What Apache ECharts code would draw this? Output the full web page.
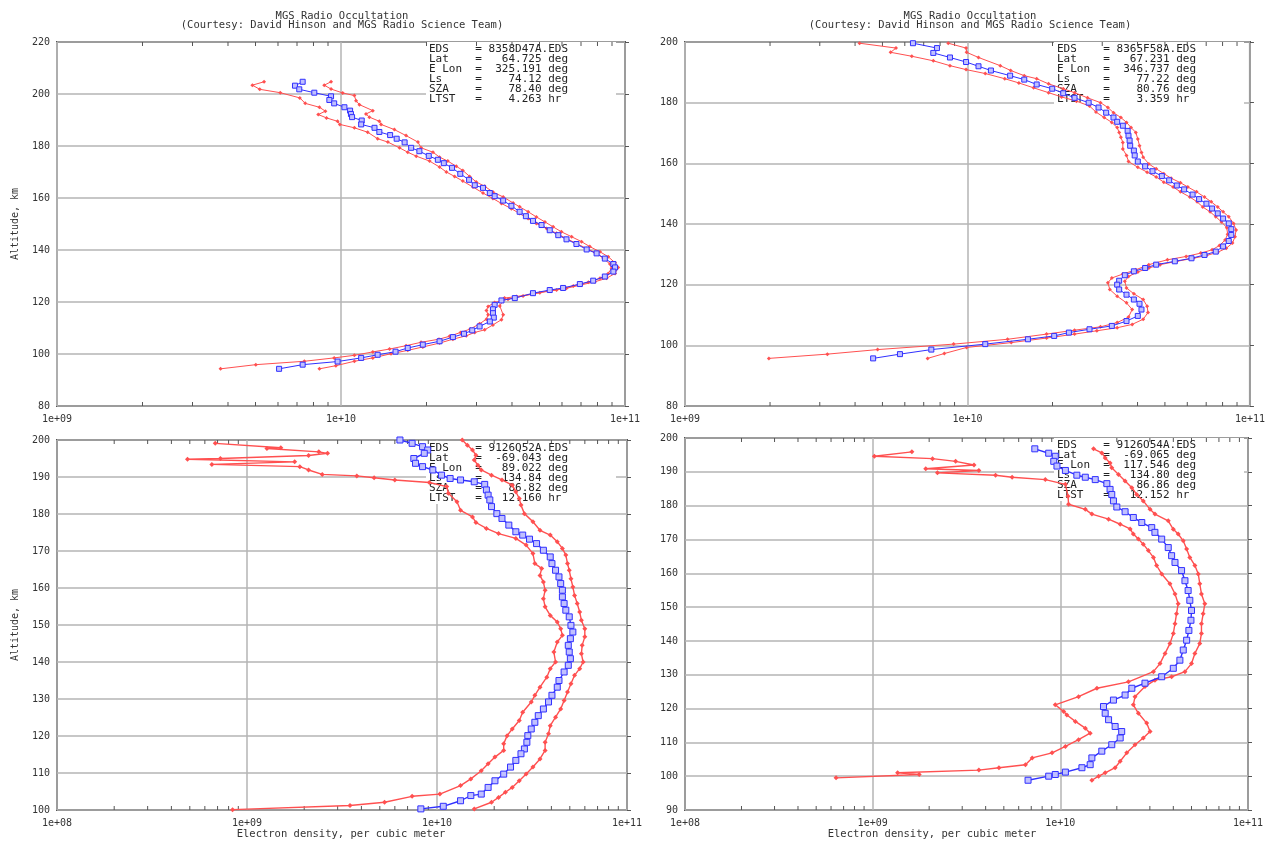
<!DOCTYPE html>
<html><head><meta charset="utf-8">
<script src="https://cdn.jsdelivr.net/npm/echarts@6/dist/echarts.min.js"></script>
<style>html,body{margin:0;padding:0;background:#fff}#c{width:1268px;height:843px}</style>
</head><body><div id="c"></div>
<script>
// ---- DATA: each point is [altitude km, log10(electron density per m^3)] ----
const p1Blue=[[204.7,9.865],[203.2,9.838],[201.8,9.853],[200.5,9.906],[199.1,9.965],[197.7,9.959],[196.4,9.976],[194.9,10.012],[193.6,10.032],[192.3,10.035],[191.1,10.039],[189.8,10.073],[188.3,10.071],[187.0,10.118],[185.4,10.135],[184.2,10.173],[182.8,10.196],[181.4,10.224],[179.3,10.247],[178.0,10.276],[176.2,10.309],[174.7,10.341],[173.4,10.362],[171.6,10.391],[169.3,10.42],[167.0,10.451],[164.9,10.471],[163.9,10.5],[161.9,10.524],[160.7,10.541],[159.0,10.571],[157.0,10.6],[154.7,10.629],[153.0,10.651],[151.2,10.676],[149.6,10.706],[147.6,10.735],[145.7,10.765],[144.1,10.794],[142.3,10.829],[140.2,10.865],[138.7,10.9],[136.7,10.929],[134.6,10.959],[133.3,10.965],[131.7,10.959],[129.8,10.929],[128.2,10.888],[126.9,10.841],[125.4,10.782],[124.6,10.735],[123.4,10.676],[121.5,10.612],[120.6,10.565],[118.9,10.541],[117.2,10.535],[115.7,10.535],[114.0,10.538],[112.5,10.524],[110.6,10.488],[109.1,10.462],[107.8,10.433],[106.5,10.394],[104.9,10.347],[103.6,10.288],[102.3,10.235],[100.9,10.192],[99.7,10.129],[98.5,10.071],[97.1,9.988],[95.9,9.865],[94.3,9.782]];
const p1RedLo=[[204.7,9.729],[203.4,9.688],[201.8,9.714],[200.5,9.786],[198.5,9.855],[196.4,9.874],[194.9,9.924],[193.4,9.945],[192.1,9.92],[190.8,9.949],[189.5,9.988],[188.3,9.996],[187.0,10.047],[185.3,10.094],[182.8,10.129],[181.5,10.165],[179.3,10.206],[177.6,10.235],[176.1,10.265],[174.2,10.312],[171.9,10.347],[170.0,10.371],[168.3,10.4],[166.5,10.429],[164.2,10.465],[161.9,10.5],[159.8,10.535],[157.9,10.565],[155.9,10.6],[154.0,10.629],[152.1,10.659],[150.2,10.688],[148.3,10.724],[146.4,10.759],[144.4,10.794],[142.5,10.829],[140.6,10.865],[139.0,10.894],[136.8,10.924],[134.6,10.947],[133.0,10.953],[131.0,10.941],[129.1,10.912],[127.6,10.871],[126.2,10.818],[124.6,10.759],[123.6,10.7],[122.3,10.641],[121.1,10.588],[119.8,10.541],[118.3,10.518],[116.7,10.512],[115.1,10.518],[113.4,10.512],[111.6,10.488],[109.6,10.455],[108.3,10.421],[106.8,10.382],[105.7,10.345],[104.5,10.282],[103.2,10.229],[101.9,10.171],[100.8,10.112],[99.5,10.047],[98.5,9.976],[97.2,9.871],[95.9,9.7],[94.3,9.576]];
const p1RedHi=[[204.7,9.965],[203.4,9.941],[201.9,9.965],[200.4,10.006],[199.4,10.047],[197.4,10.053],[195.9,10.065],[193.6,10.112],[192.3,10.088],[191.1,10.1],[189.5,10.135],[188.3,10.141],[186.3,10.188],[184.0,10.229],[181.5,10.271],[179.3,10.282],[177.6,10.324],[175.7,10.347],[174.2,10.376],[172.2,10.406],[170.6,10.429],[168.3,10.453],[166.2,10.476],[164.5,10.506],[162.3,10.535],[160.4,10.571],[158.1,10.606],[156.6,10.629],[154.7,10.659],[152.7,10.688],[150.8,10.718],[148.9,10.747],[147.0,10.776],[145.1,10.812],[143.2,10.847],[141.3,10.876],[139.3,10.912],[137.4,10.941],[135.1,10.965],[133.3,10.976],[131.0,10.965],[129.1,10.935],[127.8,10.894],[126.6,10.847],[125.3,10.794],[124.4,10.735],[123.1,10.676],[122.1,10.618],[121.5,10.576],[118.5,10.559],[115.1,10.571],[113.2,10.565],[111.2,10.535],[109.3,10.506],[108.3,10.471],[107.0,10.441],[105.7,10.394],[104.2,10.347],[102.7,10.288],[101.4,10.235],[100.1,10.176],[98.5,10.112],[97.2,10.047],[95.5,9.982],[94.3,9.924]];

const p2Blue=[[199.6,9.807],[198.0,9.892],[196.4,9.879],[194.9,9.938],[193.4,9.995],[192.0,10.039],[190.6,10.083],[188.9,10.151],[187.6,10.201],[186.0,10.245],[184.6,10.3],[183.1,10.339],[181.6,10.379],[180.0,10.429],[178.4,10.464],[176.7,10.491],[175.1,10.517],[173.7,10.53],[172.4,10.55],[170.7,10.567],[169.1,10.57],[167.5,10.574],[165.8,10.576],[164.2,10.589],[162.6,10.592],[160.6,10.603],[159.0,10.629],[157.4,10.655],[155.8,10.688],[154.4,10.714],[152.7,10.741],[151.4,10.767],[149.7,10.797],[148.2,10.82],[146.7,10.846],[145.1,10.866],[143.5,10.886],[141.8,10.905],[140.2,10.925],[138.3,10.934],[136.4,10.934],[134.4,10.925],[132.6,10.905],[130.9,10.879],[129.8,10.839],[128.7,10.793],[127.7,10.734],[126.6,10.668],[125.5,10.629],[124.4,10.589],[123.1,10.557],[121.3,10.537],[120.0,10.53],[118.4,10.537],[116.7,10.563],[115.1,10.589],[113.7,10.609],[111.8,10.616],[109.7,10.603],[108.0,10.563],[106.4,10.511],[105.3,10.432],[104.2,10.359],[103.1,10.307],[102.0,10.214],[100.4,10.063],[98.6,9.872],[97.1,9.761],[95.7,9.666]];
const p2RedLo=[[199.6,9.618],[198.0,9.747],[196.6,9.728],[195.3,9.803],[193.8,9.879],[192.2,9.938],[190.9,9.995],[189.6,10.063],[187.9,10.132],[186.5,10.182],[184.9,10.234],[183.3,10.287],[181.9,10.333],[180.5,10.386],[178.9,10.432],[176.9,10.455],[175.1,10.484],[173.5,10.511],[171.8,10.53],[170.2,10.537],[168.6,10.543],[166.9,10.55],[164.7,10.55],[162.6,10.563],[160.6,10.57],[158.7,10.603],[157.1,10.636],[155.5,10.668],[153.8,10.695],[152.2,10.728],[150.6,10.754],[148.9,10.787],[147.3,10.813],[145.6,10.833],[144.0,10.859],[142.4,10.879],[140.7,10.899],[138.8,10.918],[136.6,10.921],[134.7,10.912],[132.9,10.892],[131.5,10.866],[130.4,10.826],[129.3,10.774],[128.2,10.708],[126.6,10.642],[124.9,10.596],[123.5,10.55],[122.2,10.511],[120.6,10.497],[118.4,10.504],[116.2,10.53],[114.0,10.563],[111.8,10.583],[109.3,10.57],[107.5,10.53],[106.1,10.471],[105.0,10.379],[103.7,10.28],[102.0,10.142],[100.4,9.951],[98.6,9.682],[97.1,9.504],[95.7,9.297]];
const p2RedHi=[[199.6,9.932],[198.0,9.995],[196.6,9.997],[194.9,10.039],[192.2,10.116],[190.6,10.153],[188.9,10.201],[187.9,10.245],[186.2,10.287],[184.6,10.339],[183.3,10.379],[181.6,10.425],[180.0,10.471],[178.4,10.497],[176.7,10.517],[175.1,10.543],[173.5,10.563],[171.8,10.579],[170.2,10.596],[168.0,10.603],[165.8,10.609],[163.6,10.616],[162.0,10.622],[159.8,10.642],[158.2,10.668],[156.6,10.695],[155.1,10.721],[153.6,10.754],[152.2,10.78],[150.6,10.811],[148.9,10.839],[147.3,10.863],[145.6,10.886],[144.0,10.905],[142.4,10.925],[140.2,10.942],[138.0,10.951],[135.8,10.947],[133.7,10.938],[132.0,10.916],[130.7,10.886],[129.6,10.846],[128.7,10.8],[127.7,10.741],[126.6,10.682],[125.5,10.642],[124.2,10.603],[122.7,10.57],[121.1,10.557],[118.9,10.563],[117.0,10.589],[115.1,10.622],[112.9,10.636],[110.8,10.639],[108.6,10.622],[106.9,10.583],[105.8,10.53],[104.8,10.458],[103.7,10.379],[102.4,10.28],[100.9,10.155],[99.3,9.997],[97.3,9.918],[95.7,9.859]];

const p3Blue=[[200.0,9.805],[199.1,9.869],[198.2,9.924],[197.3,9.951],[196.4,9.933],[195.0,9.878],[193.7,9.887],[192.8,9.924],[191.9,9.978],[190.5,10.024],[189.6,10.069],[189.2,10.124],[188.7,10.196],[188.0,10.251],[186.5,10.26],[185.1,10.269],[183.8,10.278],[182.0,10.287],[180.1,10.315],[178.8,10.342],[177.0,10.378],[175.2,10.415],[174.3,10.451],[173.2,10.487],[172.0,10.524],[170.2,10.56],[168.4,10.596],[166.6,10.605],[164.8,10.624],[163.0,10.642],[161.2,10.651],[159.4,10.66],[157.6,10.66],[155.8,10.669],[154.0,10.678],[152.2,10.696],[149.9,10.705],[148.1,10.715],[146.3,10.702],[144.5,10.691],[142.7,10.696],[140.9,10.702],[139.1,10.691],[137.3,10.669],[135.0,10.642],[133.2,10.633],[131.0,10.605],[129.2,10.587],[127.3,10.56],[125.5,10.533],[123.7,10.515],[121.9,10.496],[120.1,10.478],[118.3,10.473],[116.5,10.46],[115.2,10.442],[113.4,10.415],[111.6,10.387],[109.7,10.351],[107.9,10.305],[106.1,10.269],[104.3,10.233],[103.9,10.178],[102.5,10.124],[101.0,10.033],[100.3,9.915]];
const p3RedLo=[[199.1,8.833],[197.9,9.178],[197.7,9.105],[196.8,9.378],[196.4,9.424],[195.8,9.324],[195.0,8.86],[194.8,8.687],[194.1,9.251],[193.4,8.815],[192.8,9.278],[191.9,9.324],[190.7,9.396],[190.3,9.578],[189.8,9.669],[189.2,9.778],[188.5,9.96],[187.4,10.051],[185.6,10.06],[183.3,10.105],[181.0,10.124],[179.2,10.187],[177.7,10.205],[176.1,10.26],[174.7,10.324],[173.4,10.415],[171.6,10.469],[169.3,10.505],[166.6,10.515],[165.3,10.551],[163.4,10.542],[161.6,10.56],[159.4,10.569],[157.1,10.56],[154.9,10.569],[152.6,10.596],[150.8,10.633],[149.0,10.651],[147.2,10.66],[145.4,10.633],[142.7,10.615],[140.0,10.624],[138.2,10.596],[135.9,10.578],[133.2,10.542],[131.0,10.515],[129.2,10.496],[126.4,10.451],[124.2,10.433],[121.9,10.396],[120.1,10.369],[117.9,10.351],[116.1,10.351],[114.3,10.305],[112.5,10.269],[110.6,10.233],[108.4,10.178],[106.6,10.124],[104.3,10.015],[103.7,9.869],[102.1,9.724],[101.2,9.542],[100.1,8.924]];
const p3RedHi=[[200.0,10.133],[198.6,10.16],[197.3,10.187],[195.9,10.205],[194.6,10.196],[193.2,10.215],[191.9,10.233],[190.5,10.287],[189.2,10.342],[187.8,10.396],[186.0,10.415],[184.2,10.433],[182.4,10.442],[180.1,10.46],[177.9,10.505],[175.6,10.542],[174.3,10.596],[172.5,10.633],[170.7,10.66],[168.9,10.678],[166.6,10.687],[164.8,10.696],[162.5,10.705],[160.3,10.715],[158.0,10.724],[155.8,10.738],[153.5,10.751],[151.3,10.76],[149.0,10.778],[146.8,10.778],[144.5,10.764],[142.2,10.76],[140.0,10.769],[138.2,10.751],[136.4,10.724],[134.1,10.705],[131.9,10.687],[129.6,10.669],[127.3,10.651],[125.1,10.624],[122.8,10.596],[120.6,10.587],[118.3,10.569],[116.1,10.569],[113.8,10.542],[111.6,10.505],[109.7,10.469],[107.9,10.433],[106.1,10.396],[104.8,10.36],[103.4,10.324],[102.1,10.287],[100.3,10.196]];

const p4Blue=[[196.8,9.864],[195.5,9.938],[194.6,9.973],[193.1,9.965],[191.7,9.982],[190.4,10.027],[189.0,10.088],[188.4,10.133],[187.7,10.186],[186.5,10.248],[184.8,10.265],[183.3,10.274],[181.4,10.283],[179.6,10.301],[178.2,10.345],[176.5,10.389],[175.0,10.434],[173.5,10.487],[172.1,10.504],[170.1,10.54],[167.6,10.575],[165.2,10.593],[163.2,10.611],[160.8,10.646],[157.8,10.664],[154.9,10.681],[152.0,10.69],[149.0,10.699],[146.1,10.696],[143.1,10.685],[140.2,10.673],[137.3,10.655],[134.3,10.637],[131.9,10.602],[129.4,10.54],[127.5,10.451],[126.0,10.381],[124.0,10.345],[122.5,10.283],[120.6,10.23],[118.6,10.239],[116.7,10.257],[114.7,10.292],[113.2,10.327],[111.3,10.319],[109.3,10.274],[107.4,10.221],[105.4,10.168],[103.4,10.159],[102.5,10.115],[101.2,10.027],[100.5,9.973],[100.0,9.938],[98.8,9.828]];
const p4RedLo=[[195.9,9.209],[194.6,9.009],[193.9,9.319],[193.1,9.442],[192.0,9.54],[190.9,9.283],[190.4,9.566],[189.7,9.345],[189.0,9.655],[188.4,9.743],[187.7,9.92],[186.3,10.027],[182.8,10.041],[180.4,10.044],[178.9,10.133],[177.5,10.168],[176.0,10.257],[174.5,10.319],[173.1,10.372],[171.6,10.389],[170.1,10.416],[168.6,10.442],[166.7,10.469],[164.7,10.496],[162.3,10.513],[159.8,10.54],[156.9,10.584],[153.9,10.611],[151.0,10.628],[148.0,10.619],[145.1,10.611],[142.2,10.602],[139.2,10.584],[136.3,10.558],[133.3,10.531],[130.9,10.496],[127.9,10.363],[126.0,10.195],[123.5,10.097],[121.1,9.973],[119.1,10.018],[118.1,10.035],[116.2,10.08],[114.2,10.133],[112.7,10.159],[110.8,10.097],[108.8,10.027],[106.9,9.956],[105.4,9.85],[103.4,9.814],[102.5,9.673],[101.8,9.566],[101.0,9.133],[100.5,9.248],[99.5,8.805]];
const p4RedHi=[[196.8,10.177],[195.6,10.221],[194.1,10.239],[192.6,10.265],[191.2,10.274],[189.2,10.31],[187.3,10.345],[185.3,10.381],[183.3,10.407],[181.4,10.442],[178.9,10.478],[177.5,10.504],[175.5,10.575],[173.0,10.602],[171.6,10.628],[169.6,10.655],[167.2,10.673],[164.7,10.69],[162.3,10.717],[159.8,10.735],[156.9,10.743],[153.9,10.752],[151.0,10.77],[148.0,10.761],[145.1,10.752],[142.2,10.752],[139.2,10.743],[136.3,10.717],[133.3,10.699],[130.9,10.664],[129.4,10.593],[128.4,10.504],[126.5,10.451],[123.5,10.398],[121.1,10.389],[118.6,10.416],[115.7,10.46],[113.2,10.478],[111.3,10.442],[109.3,10.398],[106.9,10.354],[104.4,10.319],[102.5,10.292],[101.0,10.239],[100.0,10.204],[98.8,10.168]];

// axis ranges
const xMinExp=[9,9,8,8], xMaxExp=[11,11,11,11];
const yMin=[80,80,100,90], yMax=[220,200,200,200], yStep=[20,20,10,10];

const infoText=[
 ['EDS    = 8358D47A.EDS','Lat    =   64.725 deg','E Lon  =  325.191 deg','Ls     =    74.12 deg','SZA    =    78.40 deg','LTST   =    4.263 hr'],
 ['EDS    = 8365F58A.EDS','Lat    =   67.231 deg','E Lon  =  346.737 deg','Ls     =    77.22 deg','SZA    =    80.76 deg','LTST   =    3.359 hr'],
 ['EDS    = 9126Q52A.EDS','Lat    =  -69.043 deg','E Lon  =   89.022 deg','Ls     =   134.84 deg','SZA    =    86.82 deg','LTST   =   12.160 hr'],
 ['EDS    = 9126O54A.EDS','Lat    =  -69.065 deg','E Lon  =  117.546 deg','Ls     =   134.80 deg','SZA    =    86.86 deg','LTST   =   12.152 hr']
];
const titleLines=['MGS Radio Occultation','(Courtesy: David Hinson and MGS Radio Science Team)'];
const yName='Altitude, km';
const xName='Electron density, per cubic meter';

// ---- layout ----
const F='"DejaVu Sans Mono", "Liberation Mono", monospace';
const grids=[
 {left:57,top:42,width:568,height:364},
 {left:685,top:42,width:570,height:364},
 {left:57,top:440,width:570,height:370},
 {left:685,top:438,width:563,height:372}
];
const RED='#ff5050', BLUE='#3030ff';
const panels=[[p1RedLo,p1RedHi,p1Blue],[p2RedLo,p2RedHi,p2Blue],[p3RedLo,p3RedHi,p3Blue],[p4RedLo,p4RedHi,p4Blue]];
const dense=[false,false,true,true];

function expLabel(v){const e=Math.round(Math.log10(v));return '1e+'+(e<10?'0':'')+e;}

const option={backgroundColor:'#fff',animation:false,grid:[],xAxis:[],yAxis:[],series:[],graphic:[]};
grids.forEach((g,i)=>{
  option.grid.push(Object.assign({show:true,borderColor:'#555',borderWidth:2,backgroundColor:'#fff',containLabel:false},g));
  option.xAxis.push({type:'log',logBase:10,gridIndex:i,min:Math.pow(10,xMinExp[i]),max:Math.pow(10,xMaxExp[i]),
    axisLine:{show:false},axisTick:{show:false},
    axisLabel:{formatter:expLabel,fontFamily:F,fontSize:10,color:'#333',margin:8,showMinLabel:true,showMaxLabel:true},
    splitLine:{show:true,lineStyle:{color:'#b4b4b4',width:1.5}}});
  option.yAxis.push({type:'value',gridIndex:i,min:yMin[i],max:yMax[i],interval:yStep[i],
    name:(i===0||i===2)?yName:'',nameLocation:'middle',nameGap:37,nameRotate:90,
    nameTextStyle:{fontFamily:F,fontSize:10,color:'#333'},
    axisLine:{show:false},axisTick:{show:false},
    axisLabel:{fontFamily:F,fontSize:10,color:'#333',margin:7},
    splitLine:{show:true,lineStyle:{color:'#b4b4b4',width:1.5}}});
});
// right-side tick axes
grids.forEach((g,i)=>{
  option.yAxis.push({type:'value',gridIndex:i,position:'right',min:yMin[i],max:yMax[i],interval:yStep[i],
    axisLine:{show:false},axisLabel:{show:false},splitLine:{show:false},
    axisTick:{show:true,length:4,inside:false,lineStyle:{color:'#555',width:1}}});
});

// minor log ticks on top & bottom frame
grids.forEach((g,i)=>{
  const ticks=[];
  for(let e=xMinExp[i];e<xMaxExp[i];e++){for(let m=2;m<=9;m++)ticks.push([m*Math.pow(10,e),yMin[i]]);}
  const yTop=yMax[i], yBot=yMin[i];
  option.series.push({type:'custom',xAxisIndex:i,yAxisIndex:i,silent:true,z:1,data:ticks,
    renderItem:function(params,api){
      const v=api.value(0);
      const a=api.coord([v,yTop]), b=api.coord([v,yBot]);
      return {type:'group',children:[
        {type:'line',shape:{x1:a[0],y1:a[1],x2:a[0],y2:a[1]+4},style:{stroke:'#555',lineWidth:1}},
        {type:'line',shape:{x1:b[0],y1:b[1],x2:b[0],y2:b[1]-4},style:{stroke:'#555',lineWidth:1}}
      ]};
    }});
});

panels.forEach((set,i)=>{
  const toXY=arr=>arr.map(p=>[Math.pow(10,p[1]),p[0]]);
  [0,1].forEach(k=>{
    option.series.push({type:'line',xAxisIndex:i,yAxisIndex:i,data:toXY(set[k]),z:3,
      symbol:'diamond',symbolSize:dense[i]?5:4,showSymbol:true,
      lineStyle:{color:RED,width:dense[i]?1.4:1},itemStyle:{color:RED},emphasis:{disabled:true}});
  });
  option.series.push({type:'line',xAxisIndex:i,yAxisIndex:i,data:toXY(set[2]),z:4,
    symbol:'rect',symbolSize:dense[i]?6:5,showSymbol:true,
    lineStyle:{color:BLUE,width:dense[i]?1.4:1},itemStyle:{color:'#c0c0ff',borderColor:BLUE,borderWidth:1},emphasis:{disabled:true}});
});

// info boxes (white background under the data)
const boxPos=[[429,44],[1057,44],[429,443],[1057,440]];
infoText.forEach((lines,i)=>{
  option.graphic.push({type:'rect',z:1,left:boxPos[i][0]-3,top:boxPos[i][1]-2,shape:{width:190,height:63},style:{fill:'#fff'}});
  option.graphic.push({type:'text',z:2,left:boxPos[i][0],top:boxPos[i][1],
    style:{text:lines.join('\n'),font:'11px '+F,fill:'#222',lineHeight:10}});
});
// titles
[342,970].forEach(cx=>{
  titleLines.forEach((t,k)=>{
    option.graphic.push({type:'text',z:2,x:cx,y:16+k*9.5,style:{text:t,font:'10.5px '+F,fill:'#333',textAlign:'center',textVerticalAlign:'middle'}});
  });
});
// x axis names under bottom panels
[341,932].forEach(cx=>{
  option.graphic.push({type:'text',z:2,x:cx,y:834,style:{text:xName,font:'10.5px '+F,fill:'#333',textAlign:'center',textVerticalAlign:'middle'}});
});

const chart=echarts.init(document.getElementById('c'),null,{renderer:'canvas'});
chart.setOption(option);
</script></body></html>
